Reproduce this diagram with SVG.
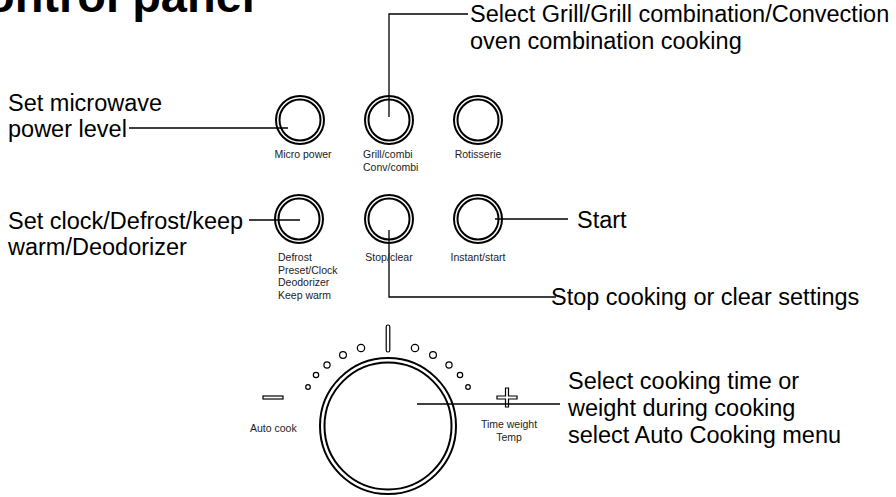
<svg xmlns="http://www.w3.org/2000/svg" width="896" height="497" viewBox="0 0 896 497">
<style>
.big{font-family:"Liberation Sans",Arial,sans-serif;font-size:23.5px;fill:#000}
.sm{font-family:"Liberation Sans",Arial,sans-serif;font-size:10.5px;fill:#222}
.title{font-family:"Liberation Sans",Arial,sans-serif;font-size:47px;font-weight:bold;fill:#000}
.ring{fill:none;stroke:#000;stroke-width:2}
.ln{fill:none;stroke:#000;stroke-width:1.3}
.dot{fill:none;stroke:#000;stroke-width:1.2}
</style>
<rect width="896" height="497" fill="#fff"/>
<text class="title" x="-48" y="12">Control panel</text>

<g id="connectors">
<path class="ln" d="M129 128H288"/>
<path class="ln" d="M249 220H300"/>
<path class="ln" d="M389 117V14H468"/>
<path class="ln" d="M495 219H568"/>
<path class="ln" d="M389 230V297H556"/>
<path class="ln" d="M417 404H560"/>
</g>

<g id="callout-micro"><text class="big" x="8" y="111">Set microwave</text><text class="big" x="8" y="137">power level</text></g>
<g id="callout-clock"><text class="big" x="8" y="229">Set clock/Defrost/keep</text><text class="big" x="8" y="255">warm/Deodorizer</text></g>
<g id="callout-grill"><text class="big" x="470" y="22">Select Grill/Grill combination/Convection</text><text class="big" x="470" y="49">oven combination cooking</text></g>
<g id="callout-start"><text class="big" x="577" y="228">Start</text></g>
<g id="callout-stop"><text class="big" x="551" y="305">Stop cooking or clear settings</text></g>
<g id="callout-dial"><text class="big" x="568" y="389">Select cooking time or</text><text class="big" x="568" y="416">weight during cooking</text><text class="big" x="568" y="443">select Auto Cooking menu</text></g>

<g id="btn-micro"><circle class="ring" cx="300" cy="120" r="24"/><circle class="ring" cx="300" cy="120" r="20.5"/><text class="sm" x="303" y="158" text-anchor="middle">Micro power</text></g>
<g id="btn-grill"><circle class="ring" cx="389" cy="120" r="24"/><circle class="ring" cx="389" cy="120" r="20.5"/><text class="sm" x="363" y="158">Grill/combi</text><text class="sm" x="363" y="171">Conv/combi</text></g>
<g id="btn-rotisserie"><circle class="ring" cx="478" cy="120" r="24"/><circle class="ring" cx="478" cy="120" r="20.5"/><text class="sm" x="478" y="158" text-anchor="middle">Rotisserie</text></g>
<g id="btn-defrost"><circle class="ring" cx="299" cy="219" r="24"/><circle class="ring" cx="299" cy="219" r="20.5"/><text class="sm" x="278" y="261">Defrost</text><text class="sm" x="278" y="273.5">Preset/Clock</text><text class="sm" x="278" y="286">Deodorizer</text><text class="sm" x="278" y="298.5">Keep warm</text></g>
<g id="btn-stop"><circle class="ring" cx="389" cy="219" r="24"/><circle class="ring" cx="389" cy="219" r="20.5"/><text class="sm" x="389" y="261" text-anchor="middle">Stop/clear</text></g>
<g id="btn-start"><circle class="ring" cx="478" cy="219" r="24"/><circle class="ring" cx="478" cy="219" r="20.5"/><text class="sm" x="478" y="261" text-anchor="middle">Instant/start</text></g>

<g id="dial">
<circle class="ring" cx="388" cy="426" r="68"/><circle class="ring" cx="388" cy="426" r="63.5"/>
<rect x="386.2" y="325" width="3.6" height="27" rx="1.8" class="dot"/>
<circle class="dot" cx="415" cy="348" r="3.7"/><circle class="dot" cx="433" cy="355" r="3.4"/><circle class="dot" cx="449" cy="365" r="3.1"/><circle class="dot" cx="460" cy="375" r="2.7"/><circle class="dot" cx="468" cy="387" r="2.3"/>
<circle class="dot" cx="361" cy="348" r="3.7"/><circle class="dot" cx="343" cy="355" r="3.4"/><circle class="dot" cx="327" cy="365" r="3.1"/><circle class="dot" cx="316" cy="375" r="2.7"/><circle class="dot" cx="308" cy="387" r="2.3"/>
<rect class="dot" x="263" y="396" width="20" height="3"/>
<path class="dot" d="M505.5 388H508.5V396H517V399H508.5V407H505.5V399H497V396H505.5Z"/>
<text class="sm" x="250" y="432">Auto cook</text>
<text class="sm" x="509" y="428" text-anchor="middle">Time weight</text>
<text class="sm" x="509" y="441" text-anchor="middle">Temp</text>
</g>
</svg>
